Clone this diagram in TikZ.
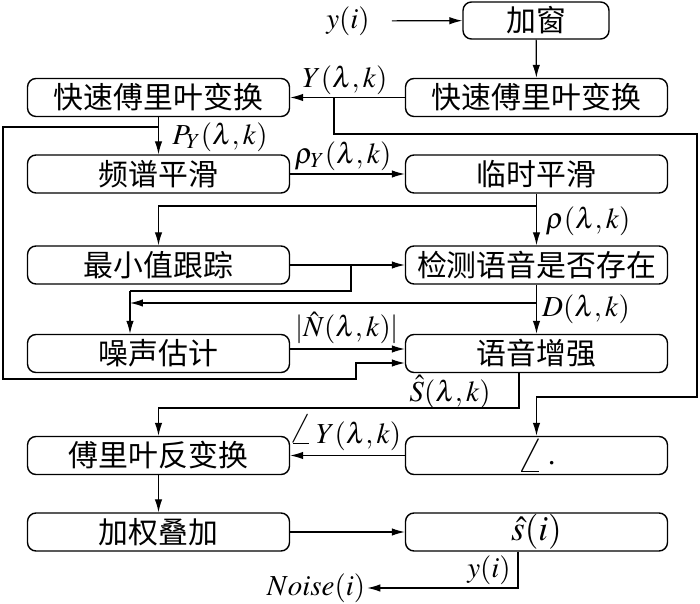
\documentclass[tikz,border=0pt]{standalone}
\usepackage{mathptmx}
\usepackage{fontspec}
\setmainfont{Liberation Serif}
\newfontfamily\cjk{Noto Sans CJK SC}
\usepackage{amsmath}
\usepackage{graphicx}
\newcommand{\ang}{\mathord{\scalebox{1.45}{$\angle$}}\,}
\usepackage{tikz}
\usetikzlibrary{arrows.meta,positioning,calc}

\tikzset{
  blk/.style={draw, line width=0.8pt, rounded corners=0.17cm, minimum width=5.24cm,
    minimum height=0.76cm, inner sep=0pt, font=\cjk\fontsize{17}{20}\selectfont},
  lbl/.style={inner sep=1pt, font=\fontsize{16.5}{18}\selectfont},
  arr/.style={line width=0.7pt, -{Latex[length=2.6mm, width=1.5mm]}},
  wire/.style={line width=0.7pt}
}

\begin{document}
\begin{tikzpicture}[x=0.02cm, y=-0.02cm]
    % Frame (pixel grid of the reference)
    \useasboundingbox (0,0) rectangle (700,604);

    % Blocks
    \node[blk, minimum width=2.92cm, minimum height=0.74cm] (win) at (536,20.5) {加窗};
    \node[lbl] (yin) at (348,21) {$y(i)$};
    \node[blk] (fftR) at (536.5,97.5) {快速傅里叶变换};
    \node[blk] (fftL) at (158.5,97.5) {快速傅里叶变换};
    \node[blk] (spec) at (158.5,174) {频谱平滑};
    \node[blk] (temp) at (536.5,174) {临时平滑};
    \node[blk] (minT) at (158.5,265) {最小值跟踪};
    \node[blk] (vad)  at (536.5,265) {检测语音是否存在};
    \node[blk] (noise) at (158.5,353.5) {噪声估计};
    \node[blk] (enh)  at (536.5,353.5) {语音增强};
    \node[blk] (ifft) at (158.5,455.5) {傅里叶反变换};
    \node[blk, font=\fontsize{19}{21}\selectfont] (ang) at (536.5,455.5) {$\ang\cdot$};
    \node[blk, font=\fontsize{20}{22}\selectfont] (shat) at (536.5,532) {$\hat{s}(i)$};
    \node[blk] (ola)  at (158.5,532) {加权叠加};
    \node[lbl] (nout) at (316,588) {$Noise(i)$};

    % Branch points and corners
    \coordinate (tapY) at (334,97.5);
    \coordinate (rTop) at (697,134);
    \coordinate (rBot) at (697,397);
    \coordinate (tapP) at (158.5,127);
    \coordinate (lBot) at (3,379);
    \coordinate (lStep) at (356,363);
    \coordinate (tapR) at (536.5,206);
    \coordinate (tapM) at (351,265);
    \coordinate (nJoin) at (130,291);
    \coordinate (tapD) at (536.5,303);
    \coordinate (sDown) at (519,408);
    \coordinate (sOut) at (518,588);

    % Main chain
    \draw[arr, shorten <=0.4cm] (yin) -- (win);
    \draw[arr] (win) -- (fftR);
    \draw[arr] (fftR) -- (fftL);
    \node[lbl] (lY) at (345,80) {$Y(\lambda,k)$};
    \draw[arr] (fftL) -- (spec);
    \node[lbl] (lPY) at (220,137) {$P_Y(\lambda,k)$};
    \draw[arr] (spec) -- (temp);
    \node[lbl] (lrY) at (343,156) {$\rho_Y(\lambda,k)$};
    \draw[arr] (temp) -- (vad);
    \node[lbl] (lr) at (588,221) {$\rho(\lambda,k)$};
    \draw[arr] (tapR) -| (minT);
    \draw[arr] (minT) -- (vad);
    \draw[wire] (tapM) |- (nJoin);
    \draw[arr] (nJoin) -- (nJoin |- noise.north);
    \draw[arr] (tapD) -- (nJoin |- tapD);
    \draw[arr] (vad) -- (enh);
    \node[lbl] (lD) at (586,309) {$D(\lambda,k)$};
    \draw[arr] ([yshift=0.09cm]noise.east) -- ([yshift=0.09cm]noise.east -| enh.west);
    \node[lbl] (lN) at (347,328) {$|\hat{N}(\lambda,k)|$};

    % Feedback of P_Y into the enhancement
    \draw[arr] (tapP) -| (lBot) -| (lStep) -- (lStep -| enh.west);

    % Phase path
    \draw[arr] (tapY) |- (rTop) -- (rBot) -| (ang);
    \draw[arr] (ang) -- (ifft);
    \node[lbl] (lA) at (345,433) {$\ang Y(\lambda,k)$};

    % Synthesis
    \draw[arr] (enh.south -| sDown) -- (sDown) -| (ifft);
    \node[lbl] (lS) at (450,392) {$\hat{S}(\lambda,k)$};
    \draw[arr] (ifft) -- (ola);
    \draw[arr] (ola) -- (shat);
    \draw[arr] (shat.south -| sOut) -- (sOut) -- (nout);
    \node[lbl] (ly) at (489,570) {$y(i)$};
\end{tikzpicture}
\end{document}
